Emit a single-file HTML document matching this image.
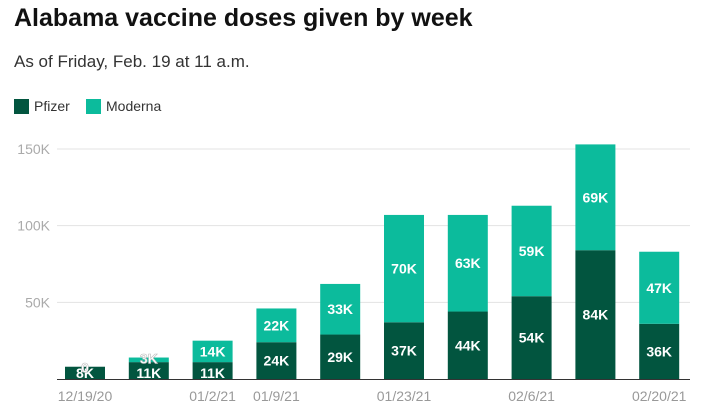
<!DOCTYPE html>
<html><head><meta charset="utf-8"><style>
body{margin:0;background:#fff;font-family:"Liberation Sans",sans-serif;}
.t{position:absolute;left:14px;top:4px;font-size:25px;font-weight:bold;color:#111;}
.s{position:absolute;left:14px;top:52px;font-size:17px;color:#333;}
.lg{position:absolute;top:98px;font-size:14px;color:#333;display:flex;align-items:center;}
.lg i{display:inline-block;width:15px;height:15px;margin-right:5px;}
</style></head><body>
<div class="t">Alabama vaccine doses given by week</div>
<div class="s">As of Friday, Feb. 19 at 11 a.m.</div>
<div class="lg" style="left:14px"><i style="background:#02553f"></i>Pfizer</div>
<div class="lg" style="left:86px"><i style="background:#0cbb9c"></i>Moderna</div>
<svg id="c" width="719" height="415" style="position:absolute;left:0;top:0"></svg>
<script>
const cats=["12/19/20","12/26/20","01/2/21","01/9/21","01/16/21","01/23/21","01/30/21","02/6/21","02/13/21","02/20/21"];
const pfizer=[8,11,11,24,29,37,44,54,84,36];
const moderna=[0,3,14,22,33,70,63,59,69,47];
const yTicks=[50,100,150];
const showX=[0,2,3,5,7,9];
const svg=document.getElementById('c');const NS='http://www.w3.org/2000/svg';
const y0=379,ppk=(379-149)/150;const y=v=>y0-v*ppk;
const x=i=>85+i*63.8;const bw=40;
function mk(t,a,txt){const e=document.createElementNS(NS,t);for(const k in a)e.setAttribute(k,a[k]);if(txt!==undefined)e.textContent=txt;svg.appendChild(e);return e;}
yTicks.forEach(v=>{
const g=mk('line',{x1:57,x2:690,y1:y(v),y2:y(v),stroke:'#e3e3e3','stroke-width':1});


const t=mk('text',{x:50,y:y(v)+5,'text-anchor':'end','font-size':14,fill:'#aaa'},v+'K');


});
cats.forEach((c,i)=>{
const p=mk('rect',{x:x(i)-bw/2,y:y(pfizer[i]),width:bw,height:pfizer[i]*ppk,fill:'#02553f'});


const m=mk('rect',{x:x(i)-bw/2,y:y(pfizer[i]+moderna[i]),width:bw,height:moderna[i]*ppk,fill:'#0cbb9c'});


const small=pfizer[i]<15;
const lp=mk('text',{x:x(i),y:small?y0-1:y(pfizer[i]/2)+5,'text-anchor':'middle','font-size':14,'font-weight':'bold',fill:'#fff'},pfizer[i]+'K');


const mt=moderna[i]===0?'0':moderna[i]+'K';
const mSmall=moderna[i]<10;
const lm=mk('text',{x:x(i),y:mSmall?y(pfizer[i]+moderna[i])+6:y(pfizer[i]+moderna[i]/2)+5,'text-anchor':'middle','font-size':14,'font-weight':'bold',fill:'#fff',stroke:mSmall?'#bbb':'none','stroke-width':0.6},mt);


if(showX.includes(i)){const xt=mk('text',{x:x(i),y:401,'text-anchor':'middle','font-size':14,fill:'#999'},c);

}
});
const ax=mk('line',{x1:57,x2:690,y1:y0+0.5,y2:y0+0.5,stroke:'#333','stroke-width':1});


</script>
</body></html>
